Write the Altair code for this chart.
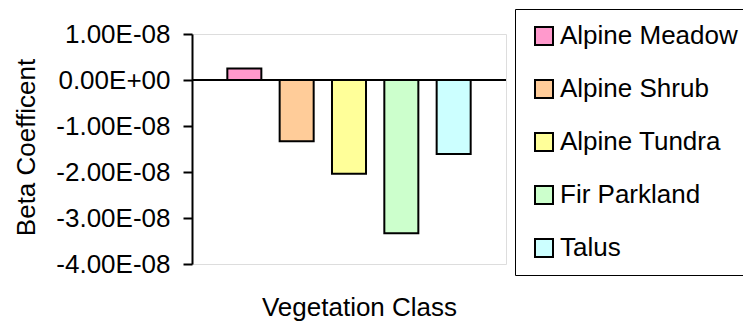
import altair as alt
import pandas as pd

# Beta coefficients by vegetation class
classes = ["Alpine Meadow", "Alpine Shrub", "Alpine Tundra", "Fir Parkland", "Talus"]
beta = [2.5e-9, -1.33e-8, -2.04e-8, -3.33e-8, -1.61e-8]
fills = ["#FF99CC", "#FFCC99", "#FFFF99", "#CCFFCC", "#CCFFFF"]

y_ticks = [-4e-8, -3e-8, -2e-8, -1e-8, 0.0, 1e-8]
y_tick_labels = ["-4.00E-08", "-3.00E-08", "-2.00E-08", "-1.00E-08", "0.00E+00", "1.00E-08"]

df = pd.DataFrame({"cls": classes, "beta": beta})

label_expr = (
    "[" + ",".join(f"'{s}'" for s in y_tick_labels) + "]"
    + "[round(datum.value * 1e8) + 4]"
)

FONT = "Liberation Sans"
FS = 26

bars = alt.Chart(df).mark_bar(stroke="black", strokeWidth=2).encode(
    x=alt.X(
        "cls:N",
        sort=classes,
        scale=alt.Scale(paddingInner=0.35, paddingOuter=0.675),
        axis=alt.Axis(
            labels=False, ticks=False, domain=False,
            title="Vegetation Class",
            titleFont=FONT, titleFontSize=FS, titleFontWeight="normal",
            titleColor="black", titleBaseline="alphabetic",
            titleY=51, titleX=167, titleAlign="center",
        ),
    ),
    y=alt.Y(
        "beta:Q",
        scale=alt.Scale(domain=[-4e-8, 1e-8], nice=False, zero=True),
        axis=alt.Axis(
            values=y_ticks,
            labelExpr=label_expr,
            grid=False,
            domainColor="black", domainWidth=2,
            tickColor="black", tickWidth=2, tickSize=9,
            labelPadding=13,
            labelFont=FONT, labelFontSize=FS, labelColor="black",
            title="Beta Coefficent",
            titleFont=FONT, titleFontSize=FS, titleFontWeight="normal",
            titleColor="black", titleAngle=270, titleBaseline="alphabetic",
            titleX=-158, titleY=113, titleAlign="center",
        ),
    ),
    color=alt.Color(
        "cls:N",
        sort=classes,
        scale=alt.Scale(domain=classes, range=fills),
        legend=alt.Legend(
            title=None,
            orient="none",
            legendX=323,
            legendY=-25,
            padding=14,
            symbolOffset=2,
            symbolType="square",
            symbolSize=324,
            symbolStrokeColor="black",
            symbolStrokeWidth=2,
            symbolOpacity=1,
            labelFont=FONT,
            labelFontSize=FS,
            labelColor="black",
            labelOffset=3,
            labelLimit=400,
            rowPadding=27,
            strokeColor="black",
            fillColor="white",
        ),
    ),
)

zero_line = alt.Chart(pd.DataFrame({"y": [0.0]})).mark_rule(
    color="black", strokeWidth=2
).encode(y="y:Q")

chart = (
    alt.layer(bars, zero_line)
    .properties(
        width=314,
        height=230,
        autosize=alt.AutoSizeParams(type="none"),
        padding={"left": 192, "top": 34, "right": 237, "bottom": 60},
    )
    .configure_view(stroke="#999999", strokeWidth=2)
    .configure_legend(strokeWidth=2)
    .configure(background="white")
)

chart.save("out.html", embed_options={"renderer": "svg", "actions": False})
